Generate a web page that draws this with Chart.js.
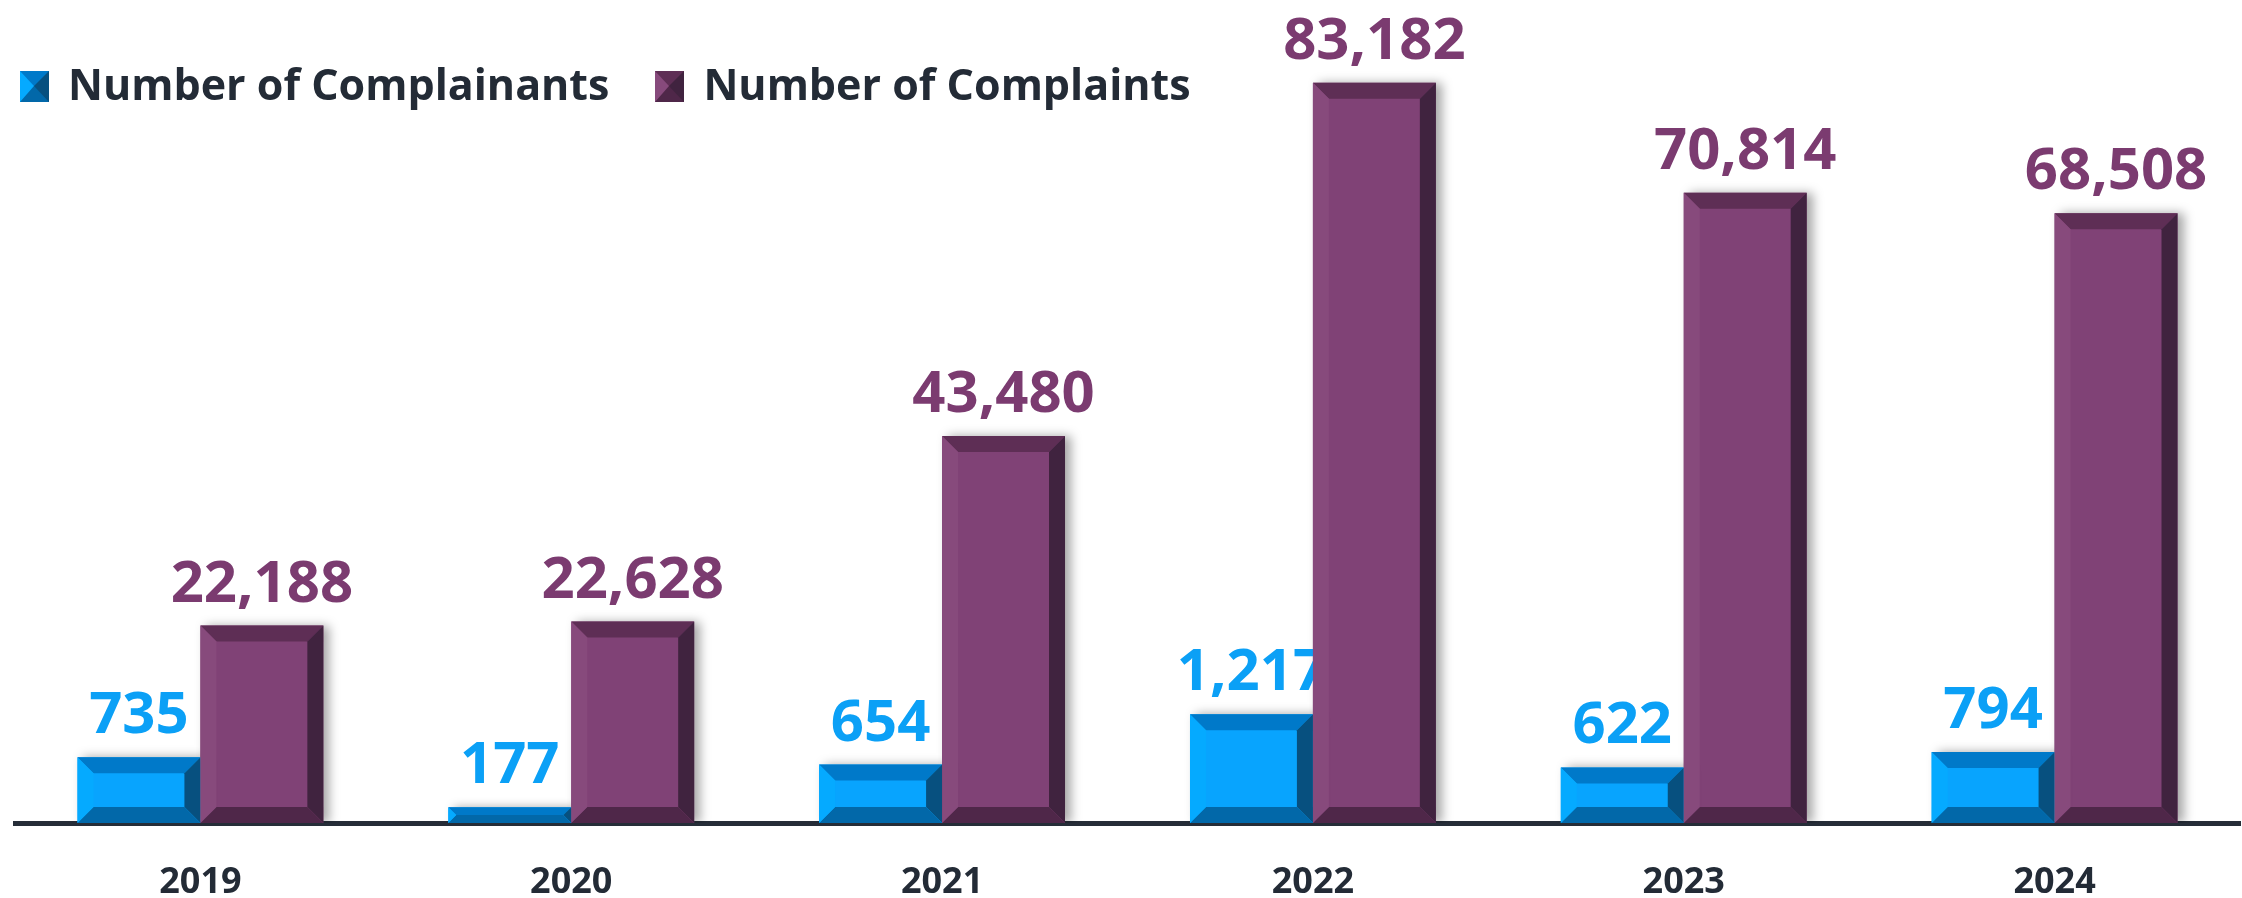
<!DOCTYPE html>
<html>
<head>
<meta charset="utf-8">
<script src="https://cdn.jsdelivr.net/npm/chart.js@4.4.1/dist/chart.umd.min.js"></script>
<style>
  html, body { margin: 0; padding: 0; background: #ffffff; }
  #wrap { width: 2242px; height: 898px; position: relative; }
  #legend {
    position: absolute; left: 20px; top: 61px;
    display: flex; align-items: center;
    font: 700 43px 'Open Sans', 'DejaVu Sans', sans-serif;
    line-height: 45px; color: #232b36; white-space: nowrap;
  }
  .item { display: flex; align-items: center; margin-right: 46px; }
  .box { width: 0; height: 0; border-style: solid; border-width: 15px 15px 16px 14px; margin-top: 5px; margin-right: 19px; }
</style>
</head>
<body>
<div id="wrap">
  <canvas id="chart"></canvas>
  <div id="legend"></div>
</div>
<script>
const years = ['2019', '2020', '2021', '2022', '2023', '2024'];
const complainants = [735, 177, 654, 1217, 622, 794];
const complaints = [22188, 22628, 43480, 83182, 70814, 68508];
const seriesNames = ['Number of Complainants', 'Number of Complaints'];

const FONT = "'Open Sans', 'DejaVu Sans', sans-serif";

// face / bevel shades for each series
const shades = [
    { face: '#08a4fe', top: '#0079c9', right: '#07507f', bottom: '#0268a9', left: '#05aaff', label: '#0ba0f6' },
    { face: '#804276', top: '#5e2e55', right: '#40233f', bottom: '#4f2749', left: '#874a7c', label: '#7b3b70' }
];

// legend (html, so both items sit on one row over the plot)
const legendEl = document.getElementById('legend');
seriesNames.forEach((name, i) => {
    const item = document.createElement('div');
    item.className = 'item';
    const box = document.createElement('span');
    box.className = 'box';
    box.style.borderColor = `${shades[i].top} ${shades[i].right} ${shades[i].bottom} ${shades[i].left}`;
    const txt = document.createElement('span');
    txt.textContent = name;
    item.appendChild(box);
    item.appendChild(txt);
    legendEl.appendChild(item);
});

// soft shadow to the right of each bar
const shadowPlugin = {
    id: 'barShadow',
    beforeDatasetDraw(chart) {
        const ctx = chart.ctx;
        ctx.save();
        ctx.shadowColor = 'rgba(0, 0, 0, 0.35)';
        ctx.shadowBlur = 10;
        ctx.shadowOffsetX = 6;
        ctx.shadowOffsetY = 0;
    },
    afterDatasetDraw(chart) {
        chart.ctx.restore();
    }
};

function poly(ctx, pts, color) {
    ctx.beginPath();
    ctx.moveTo(pts[0][0], pts[0][1]);
    for (let i = 1; i < pts.length; i++) ctx.lineTo(pts[i][0], pts[i][1]);
    ctx.closePath();
    ctx.fillStyle = color;
    ctx.fill();
}

// bevelled edges + value labels
const bevelPlugin = {
    id: 'bevel',
    afterDatasetsDraw(chart) {
        const ctx = chart.ctx;
        chart.data.datasets.forEach((ds, di) => {
            const meta = chart.getDatasetMeta(di);
            const c = shades[di];
            meta.data.forEach((bar, i) => {
                const p = bar.getProps(['x', 'y', 'base', 'width'], true);
                const l = p.x - p.width / 2, r = p.x + p.width / 2;
                const t = Math.min(p.y, p.base), b = Math.max(p.y, p.base);
                const d = Math.min(16, (b - t) / 2, p.width / 2);
                ctx.save();
                poly(ctx, [[l, t], [r, t], [r - d, t + d], [l + d, t + d]], c.top);
                poly(ctx, [[r, t], [r, b], [r - d, b - d], [r - d, t + d]], c.right);
                poly(ctx, [[l, b], [r, b], [r - d, b - d], [l + d, b - d]], c.bottom);
                poly(ctx, [[l, t], [l + d, t + d], [l + d, b - d], [l, b]], c.left);

                ctx.font = "700 58px " + FONT;
                ctx.fillStyle = c.label;
                ctx.textAlign = 'center';
                ctx.textBaseline = 'alphabetic';
                ctx.fillText(ds.data[i].toLocaleString('en-US'), p.x, t - 24);
                ctx.restore();
            });
        });
    }
};

new Chart(document.getElementById('chart'), {
    type: 'bar',
    data: {
        labels: years,
        datasets: [
            {
                label: seriesNames[0],
                data: complainants,
                yAxisID: 'y',
                backgroundColor: shades[0].face,
                borderWidth: 0,
                categoryPercentage: 0.663,
                barPercentage: 1.0
            },
            {
                label: seriesNames[1],
                data: complaints,
                yAxisID: 'y1',
                backgroundColor: shades[1].face,
                borderWidth: 0,
                categoryPercentage: 0.663,
                barPercentage: 1.0
            }
        ]
    },
    options: {
        responsive: true,
        maintainAspectRatio: false,
        animation: false,
        layout: {
            padding: { top: 54, left: 15, right: 2, bottom: 0 }
        },
        scales: {
            x: {
                grid: { display: false, drawTicks: false },
                border: { display: true, color: '#262d38', width: 5 },
                ticks: {
                    color: '#232b36',
                    padding: 42,
                    font: { family: FONT, size: 36, weight: '700', lineHeight: 1 }
                },
                afterFit(scale) { scale.height = 75; }
            },
            y: { display: false, min: 0, max: 8600 },
            y1: { display: false, min: 0, max: 86400 }
        },
        plugins: {
            legend: { display: false },
            tooltip: { enabled: false }
        }
    },
    plugins: [shadowPlugin, bevelPlugin]
});
</script>
</body>
</html>
